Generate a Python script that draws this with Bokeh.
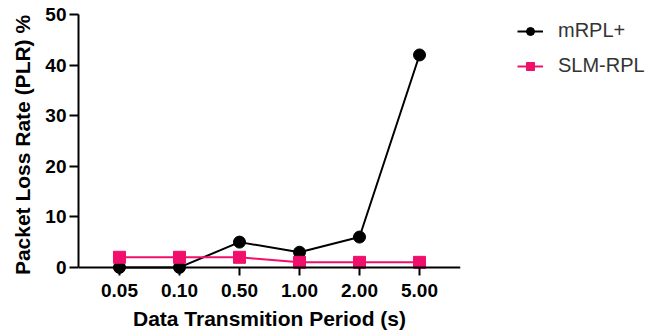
from bokeh.plotting import figure
from bokeh.models import Range1d, FixedTicker, Legend, LegendItem, Span, Title
from bokeh.embed import file_html
from bokeh.resources import INLINE

periods = ["0.05", "0.10", "0.50", "1.00", "2.00", "5.00"]
mrpl_plus = [0, 0, 5, 3, 6, 42]
slm_rpl = [2, 2, 2, 1, 1, 1]
y_ticks = [0, 10, 20, 30, 40, 50]

BLACK = "#000000"
PINK = "#F0106C"
FONT = "Liberation Sans"

xs = list(range(len(periods)))

p = figure(output_backend="svg", toolbar_location=None,
           frame_width=382, frame_height=261,
           min_border_left=77, min_border_top=14, min_border_bottom=58, min_border_right=193,
           x_range=Range1d(-0.683, len(periods) - 1 + 0.683),
           y_range=Range1d(-1.6, 50))
p.outline_line_color = None
p.xgrid.grid_line_color = None
p.ygrid.grid_line_color = None
p.background_fill_color = "white"
p.border_fill_color = "white"

# x axis baseline at y = 0
p.add_layout(Span(location=0, dimension="width", line_color=BLACK, line_width=2))

l1 = p.line(xs, mrpl_plus, line_color=BLACK, line_width=2)
s1 = p.scatter(xs, mrpl_plus, marker="circle", size=12, fill_color=BLACK, line_color=BLACK)
l2 = p.line(xs, slm_rpl, line_color=PINK, line_width=2)
s2 = p.scatter(xs, slm_rpl, marker="square", size=12, fill_color=PINK, line_color=PINK)

# axes
p.xaxis.ticker = FixedTicker(ticks=xs)
p.xaxis.major_label_overrides = {i: lab for i, lab in enumerate(periods)}
p.yaxis.ticker = FixedTicker(ticks=y_ticks)
p.yaxis.bounds = (0, 50)
for ax in (p.xaxis[0], p.yaxis[0]):
    ax.axis_line_width = 2
    ax.axis_line_color = BLACK
    ax.major_tick_line_width = 2
    ax.major_tick_line_color = BLACK
    ax.major_tick_in = 0
    ax.major_tick_out = 9
    ax.minor_tick_line_color = None
    ax.major_label_text_font = FONT
    ax.major_label_text_font_style = "bold"
    ax.major_label_text_font_size = "19px"
    ax.major_label_text_color = BLACK
    ax.axis_label_text_font = FONT
    ax.axis_label_text_font_style = "bold"
    ax.axis_label_text_color = BLACK
p.xaxis.axis_line_color = None
p.xaxis.major_tick_in = 8
p.xaxis.major_tick_out = 0
p.xaxis.major_label_standoff = 8
p.yaxis.major_label_standoff = 3
p.xaxis.axis_label = "Data Transmition Period (s)"
p.xaxis.axis_label_text_font_size = "21px"
p.xaxis.axis_label_standoff = 7

ytitle = Title(text="Packet Loss Rate (PLR) %", align="center",
               text_font=FONT, text_font_style="bold", text_font_size="21px",
               text_color=BLACK, standoff=17)
p.add_layout(ytitle, "left")

legend = Legend(items=[LegendItem(label="mRPL+", renderers=[l1, s1]),
                       LegendItem(label="SLM-RPL", renderers=[l2, s2])],
                location=(57, 198), margin=0, padding=0, spacing=12,
                glyph_width=26, glyph_height=20, label_height=20,
                label_standoff=15, label_text_font=FONT, label_text_font_size="20px",
                label_text_color="#333333", border_line_color=None,
                background_fill_alpha=0)
p.add_layout(legend, "right")

open("out.html", "w").write(file_html(p, INLINE))
